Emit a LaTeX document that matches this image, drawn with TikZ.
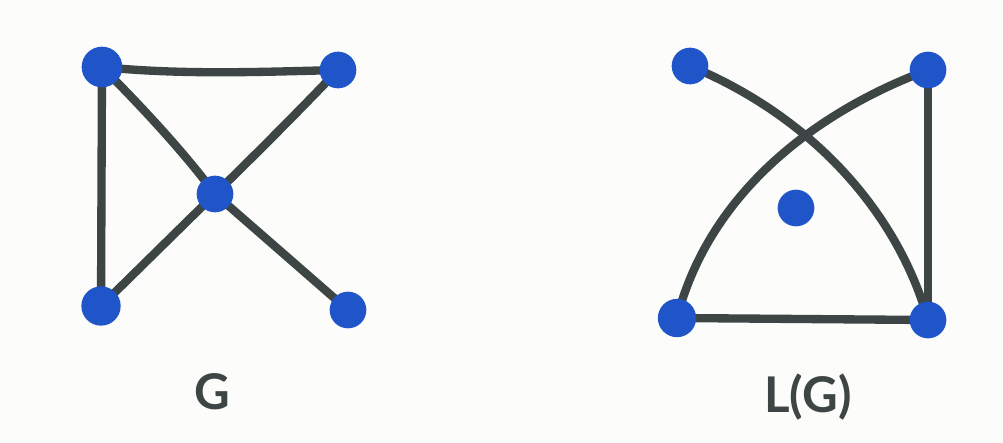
\documentclass[tikz,border=0pt]{standalone}
\usepackage{fontspec}
\setmainfont{Lato}
\usetikzlibrary{backgrounds}
\definecolor{paper}{HTML}{FCFDFA}
\definecolor{ink}{HTML}{3E4545}
\definecolor{dot}{HTML}{1F55C8}
\tikzset{
  vert/.style={circle,fill=dot,draw=none,inner sep=0pt,minimum size=1.1cm},
  edge/.style={draw=ink,line width=0.25cm,line cap=round},
  lbl/.style={text=ink,font=\fontsize{42}{42}\selectfont\bfseries,inner sep=0pt}
}
\begin{document}
\begin{tikzpicture}[x=0.03cm,y=-0.03cm]
\useasboundingbox (0,0) rectangle (1003,442);
% G
\node[vert,minimum size=1.22cm] (A) at (102,67) {};
\node[vert] (B) at (338,70) {};
\node[vert] (C) at (215,194) {};
\node[vert,minimum size=1.18cm] (D) at (101,306) {};
\node[vert] (E) at (348,310) {};
% L(G)
\node[vert] (P) at (690,66) {};
\node[vert] (Q) at (928,70) {};
\node[vert] (R) at (796,208) {};
\node[vert,minimum size=1.15cm] (S) at (677,318) {};
\node[vert] (T) at (928,320) {};
\begin{scope}[on background layer]
\fill[paper] (0,0) rectangle (1003,442);
\draw[edge] (A.center) .. controls (180,75) and (260,72) .. (B.center);
\draw[edge] (A.center) -- (D.center);
\draw[edge] (A.center) .. controls (150,115) and (190,160) .. (C.center);
\draw[edge] (B.center) .. controls (300,110) and (250,160) .. (C.center);
\draw[edge] (C.center) -- (D.center);
\draw[edge] (C.center) -- (E.center);
\draw[edge] (P.center) .. controls (820,120) and (900,220) .. (T.center);
\draw[edge] (Q.center) .. controls (820,110) and (710,190) .. (S.center);
\draw[edge] (Q.center) -- (T.center);
\draw[edge] (S.center) -- (T.center);
\end{scope}
\node[lbl] (lg) at (212,392) {G};
\node[lbl] (llg) at (808,397) {L(G)};
\end{tikzpicture}
\end{document}
